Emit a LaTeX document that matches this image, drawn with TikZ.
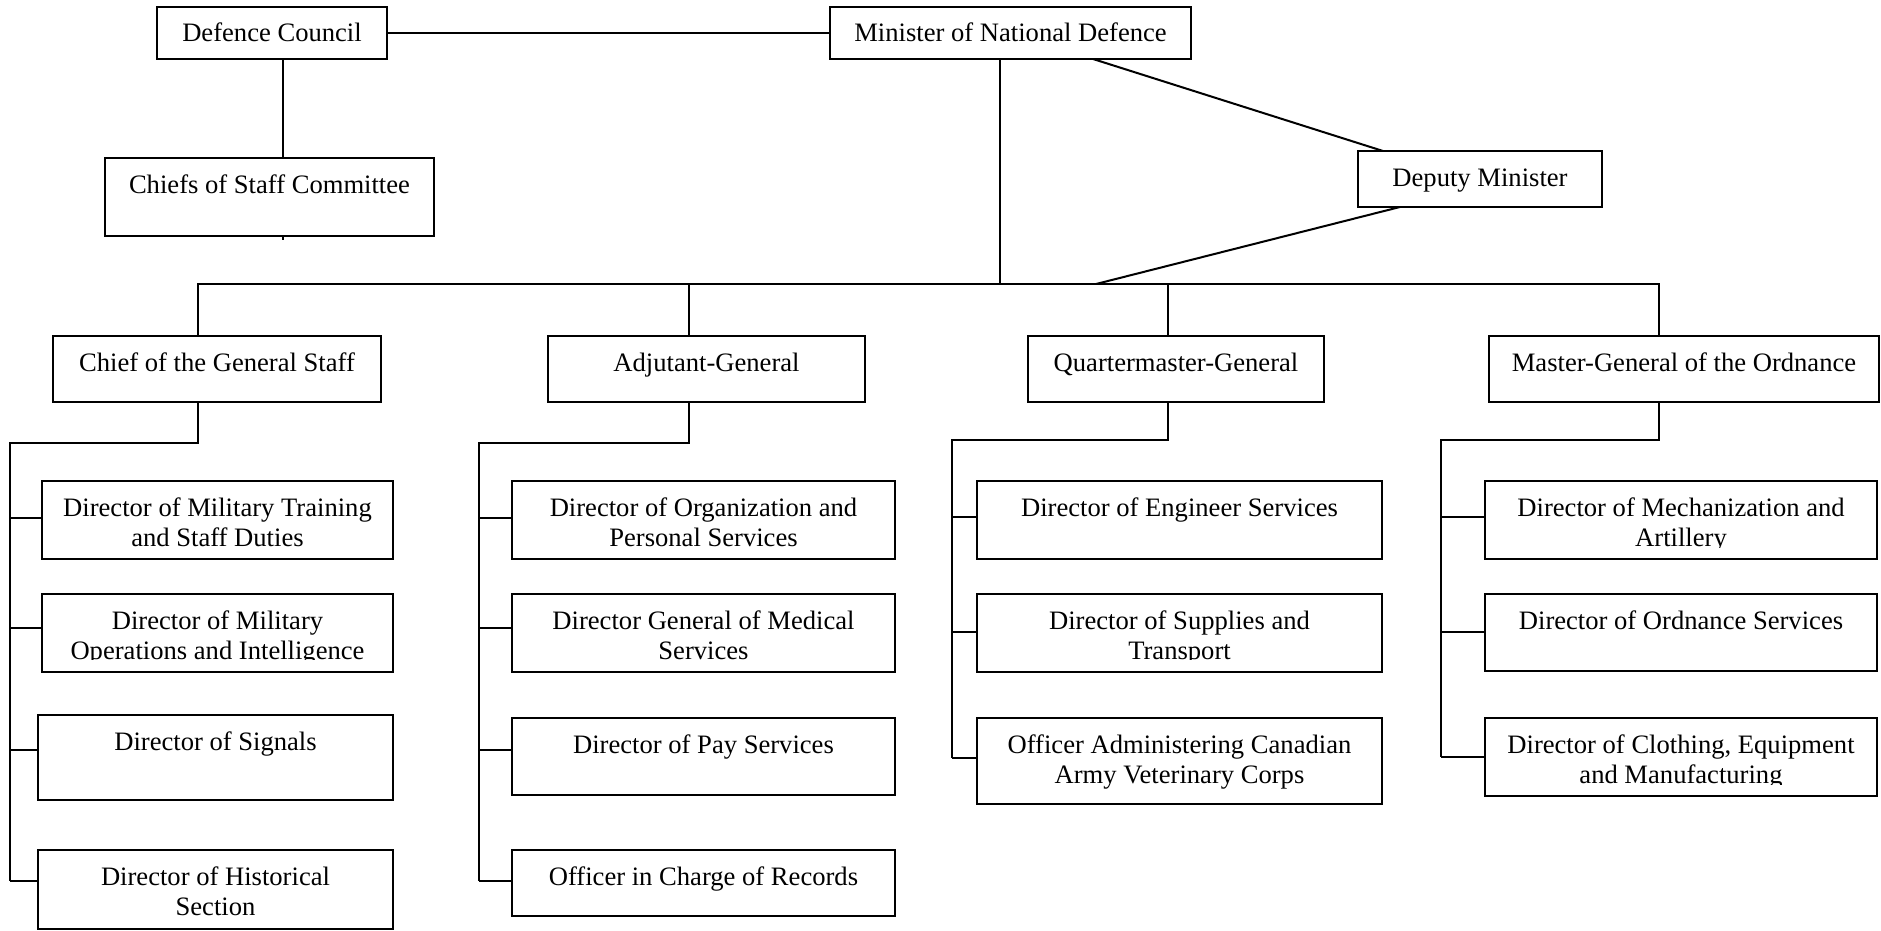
\documentclass[tikz,border=0pt]{standalone}
\usepackage{fontspec}
\setmainfont{Liberation Serif}
\tikzset{
  bx/.style={draw=black, line width=2pt, rectangle, inner sep=0pt, outer sep=0pt},
  lbl/.style={font=\fontsize{26.6}{30}\selectfont, align=center, inner sep=0pt, outer sep=0pt, anchor=north},
  ln/.style={draw=black, line width=2pt}
}
\newcommand\obox[6]{%
  \node[bx, anchor=north west, minimum width={#4-#2}, minimum height={#5-#3}] (#1) at (#2,#3) {};
  \begin{scope}
    \clip ([xshift=1pt,yshift=-1pt]#1.north west) rectangle ([xshift=-1pt,yshift=12pt]#1.south east);
    \node[lbl] at ([yshift=-11pt]#1.north) {\rule{0pt}{24pt}#6};
  \end{scope}
}
\newcommand\branch[3]{%
  \coordinate (tmpb) at (0,#3);
  \draw[ln] (#1 |- tmpb) -- (#2.west |- tmpb);
}
\begin{document}
\begin{tikzpicture}[x=1pt,y=-1pt]
\fill[white] (0,0) rectangle (1881,931);
\useasboundingbox (0,0) rectangle (1881,931);

% top level
\obox{dc}{157}{7}{387}{59}{Defence Council}
\obox{mnd}{830}{7}{1191}{59}{Minister of National Defence}
\obox{csc}{105}{158}{434}{236}{Chiefs of Staff Committee}
\obox{dep}{1358}{151}{1602}{207}{Deputy Minister}

% second level
\obox{cgs}{53}{336}{381}{402}{Chief of the General Staff}
\obox{ag}{548}{336}{865}{402}{Adjutant-General}
\obox{qmg}{1028}{336}{1324}{402}{Quartermaster-General}
\obox{mgo}{1489}{336}{1879}{402}{Master-General of the Ordnance}

% CGS children
\obox{c1}{42}{481}{393}{558.5}{Director of Military Training\\and Staff Duties}
\obox{c2}{42}{594}{393}{671.5}{Director of Military\\Operations and Intelligence}
\obox{c3}{38}{715}{393}{800}{Director of Signals}
\obox{c4}{38}{850}{393}{929}{Director of Historical\\Section}

% AG children
\obox{a1}{512}{481}{895}{558.5}{Director of Organization and\\Personal Services}
\obox{a2}{512}{594}{895}{671.5}{Director General of Medical\\Services}
\obox{a3}{512}{718}{895}{795}{Director of Pay Services}
\obox{a4}{512}{850}{895}{916}{Officer in Charge of Records}

% QMG children
\obox{q1}{977}{481}{1382}{558.5}{Director of Engineer Services}
\obox{q2}{977}{594}{1382}{671.5}{Director of Supplies and\\Transport}
\obox{q3}{977}{718}{1382}{804}{Officer Administering Canadian\\Army Veterinary Corps}

% MGO children
\obox{m1}{1485}{481}{1877}{559}{Director of Mechanization and\\Artillery}
\obox{m2}{1485}{594}{1877}{671}{Director of Ordnance Services}
\obox{m3}{1485}{718}{1877}{796}{Director of Clothing, Equipment\\and Manufacturing}

% connectors, top
\coordinate (xa) at (283,0);
\draw[ln] (dc.east) -- (mnd.west);
\draw[ln] (dc.south -| xa) -- (csc.north -| xa);
\draw[ln] (csc.south -| xa) -- ++(0,4);
\coordinate (xm) at (999.5,0);
\coordinate (yb) at (0,284);
\draw[ln] (mnd.south -| xm) -- (xm |- yb);
\coordinate (xd1) at (1093,0);
\coordinate (xd2) at (1383,0);
\draw[ln] (mnd.south -| xd1) -- (dep.north -| xd2);
\coordinate (xd3) at (1400,0);
\coordinate (xd4) at (1096,0);
\draw[ln] (dep.south -| xd3) -- (xd4 |- yb);

% bus and drops
\coordinate (d1) at (198,0);
\coordinate (d2) at (689,0);
\coordinate (d3) at (1168,0);
\coordinate (d4) at (1659,0);
\draw[ln] (cgs.north -| d1) -- (d1 |- yb) -- (d4 |- yb) -- (mgo.north -| d4);
\draw[ln] (d2 |- yb) -- (ag.north -| d2);
\draw[ln] (d3 |- yb) -- (qmg.north -| d3);

% column spines
\coordinate (s1) at (10,443);
\coordinate (s2) at (479,443);
\coordinate (s3) at (952,440);
\coordinate (s4) at (1441,440);
\coordinate (e1) at (0,881);
\coordinate (e2) at (0,881);
\coordinate (e3) at (0,757.5);
\coordinate (e4) at (0,757);
\draw[ln] (cgs.south -| d1) -- (d1 |- s1) -- (s1) -- (s1 |- e1);
\draw[ln] (ag.south -| d2) -- (d2 |- s2) -- (s2) -- (s2 |- e2);
\draw[ln] (qmg.south -| d3) -- (d3 |- s3) -- (s3) -- (s3 |- e3);
\draw[ln] (mgo.south -| d4) -- (d4 |- s4) -- (s4) -- (s4 |- e4);

% branches
\branch{s1}{c1}{517.5}
\branch{s1}{c2}{628}
\branch{s1}{c3}{750}
\branch{s1}{c4}{881}
\branch{s2}{a1}{517.5}
\branch{s2}{a2}{628}
\branch{s2}{a3}{749.5}
\branch{s2}{a4}{881}
\branch{s3}{q1}{517}
\branch{s3}{q2}{631.5}
\branch{s3}{q3}{757.5}
\branch{s4}{m1}{517}
\branch{s4}{m2}{631.5}
\branch{s4}{m3}{757}
\end{tikzpicture}
\end{document}
